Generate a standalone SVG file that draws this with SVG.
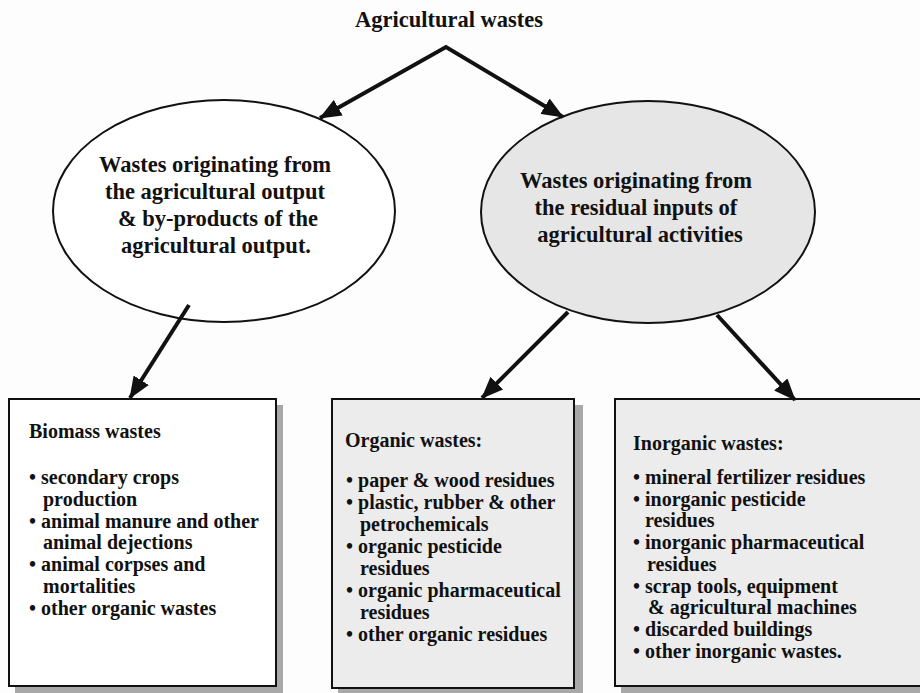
<svg xmlns="http://www.w3.org/2000/svg" width="920" height="693" viewBox="0 0 920 693">
  <defs>
    <marker id="head" viewBox="0 0 22 18" markerWidth="22" markerHeight="18" refX="21" refY="9" orient="auto-start-reverse" markerUnits="userSpaceOnUse">
      <path d="M0,0 L22,9 L0,18 Z" fill="#111"/>
    </marker>
  </defs>
  <style>
    text { font-family: "Liberation Serif", "Times New Roman", serif; font-weight: bold; fill: #111; }
    .title { font-size: 22.5px; }
    .oval { font-size: 22.5px; text-anchor: middle; }
    .box { font-size: 20px; }
    .frame { stroke: #111; stroke-width: 2; }
    .shadow { fill: #a8a8a8; }
    .link { fill: none; stroke: #111; stroke-width: 4; stroke-linejoin: miter; stroke-miterlimit: 10; marker-end: url(#head); }
  </style>

  <rect width="920" height="693" fill="#fdfdfd"/>

  <g id="root">
    <text class="title" x="449" y="27" text-anchor="middle">Agricultural wastes</text>
  </g>

  <g id="output-wastes">
    <ellipse cx="224" cy="211" rx="171" ry="111" fill="#ffffff" class="frame"/>
    <text class="oval" x="215" y="172">Wastes originating from</text>
    <text class="oval" x="215" y="199">the agricultural output</text>
    <text class="oval" x="218" y="226">&amp; by-products of the</text>
    <text class="oval" x="216" y="253">agricultural output.</text>
  </g>

  <g id="input-wastes">
    <ellipse cx="648" cy="212" rx="167" ry="111" fill="#e6e6e6" class="frame"/>
    <text class="oval" x="636" y="188">Wastes originating from</text>
    <text class="oval" x="636" y="215">the residual inputs of</text>
    <text class="oval" x="640" y="242">agricultural activities</text>
  </g>

  <g id="biomass">
    <rect class="shadow" x="15" y="405" width="268" height="288"/>
    <rect x="9" y="399" width="267" height="287" fill="#ffffff" class="frame"/>
    <text class="box" x="29" y="438">Biomass wastes</text>
    <text class="box" x="29" y="484">• secondary crops</text>
    <text class="box" x="43" y="505.8">production</text>
    <text class="box" x="29" y="527.6">• animal manure and other</text>
    <text class="box" x="43" y="549.4">animal dejections</text>
    <text class="box" x="29" y="571.2">• animal corpses and</text>
    <text class="box" x="43" y="593">mortalities</text>
    <text class="box" x="29" y="614.8">• other organic wastes</text>
  </g>

  <g id="organic">
    <rect class="shadow" x="338" y="405" width="245" height="289"/>
    <rect x="332" y="399" width="242" height="289" fill="#ececec" class="frame"/>
    <text class="box" x="345" y="447">Organic wastes:</text>
    <text class="box" x="346" y="487">• paper &amp; wood residues</text>
    <text class="box" x="346" y="509">• plastic, rubber &amp; other</text>
    <text class="box" x="360" y="531">petrochemicals</text>
    <text class="box" x="346" y="553">• organic pesticide</text>
    <text class="box" x="360" y="575">residues</text>
    <text class="box" x="346" y="597">• organic pharmaceutical</text>
    <text class="box" x="360" y="619">residues</text>
    <text class="box" x="346" y="641">• other organic residues</text>
  </g>

  <g id="inorganic">
    <rect class="shadow" x="621" y="405" width="310" height="288"/>
    <rect x="615" y="399" width="315" height="287" fill="#ececec" class="frame"/>
    <text class="box" x="633" y="450">Inorganic wastes:</text>
    <text class="box" x="633" y="484">• mineral fertilizer residues</text>
    <text class="box" x="633" y="505.7">• inorganic pesticide</text>
    <text class="box" x="645" y="527.4">residues</text>
    <text class="box" x="633" y="549">• inorganic pharmaceutical</text>
    <text class="box" x="647" y="570.8">residues</text>
    <text class="box" x="633" y="592.5">• scrap tools, equipment</text>
    <text class="box" x="648" y="614">&amp; agricultural machines</text>
    <text class="box" x="633" y="636">• discarded buildings</text>
    <text class="box" x="633" y="657.6">• other inorganic wastes.</text>
  </g>

  <g id="connectors">
    <path class="link" d="M320,118 L446,47 L563,117" style="marker-start:url(#head)"/>
    <path class="link" d="M189,305 L130,398"/>
    <path class="link" d="M568,312 L482,398"/>
    <path class="link" d="M717,315 L795,400"/>
  </g>
</svg>
